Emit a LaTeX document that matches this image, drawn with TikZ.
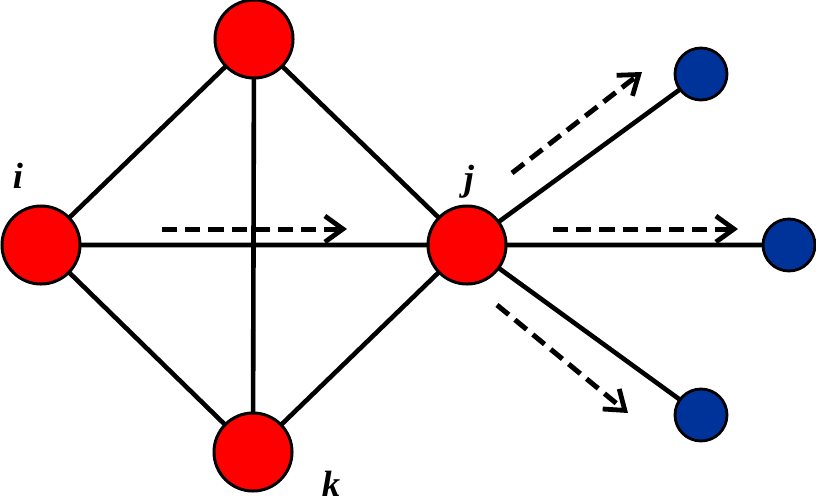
\documentclass[tikz,border=0pt]{standalone}
\usepackage{fontspec}
\setmainfont{Liberation Serif}
\usetikzlibrary{arrows.meta}

\begin{document}
\begin{tikzpicture}[x=0.025cm, y=-0.025cm, >={Straight Barb[length=4.5mm, width=6.5mm, line width=1.2mm]},
  big/.style={circle, draw, line width=0.075cm, fill=red, minimum size=1.95cm, inner sep=0pt},
  small/.style={circle, draw, line width=0.07cm, fill={rgb,255:red,0;green,51;blue,153}, minimum size=1.3cm, inner sep=0pt},
  edge/.style={line width=0.115cm},
  flow/.style={->, line width=0.125cm, dash pattern=on 0.38cm off 0.2cm},
  lbl/.style={font=\fontsize{26}{30}\selectfont\bfseries\itshape, inner sep=0pt, anchor=base}]
  \useasboundingbox (0,0) rectangle (816,502);
  % edges first, circles drawn over them
  \coordinate (ic) at (41,245);
  \coordinate (tc) at (254,39);
  \coordinate (kc) at (253,452);
  \coordinate (jc) at (467,245);
  \draw[edge] (ic) -- (tc) (ic) -- (kc) (ic) -- (jc)
    (tc) -- (kc) (tc) -- (jc) (kc) -- (jc);
  \draw[edge] (jc) -- (701,74) (jc) -- (789,245) (jc) -- (701,415);
  \node[big] (i) at (ic) {};
  \node[big] (t) at (tc) {};
  \node[big] (k) at (kc) {};
  \node[big] (j) at (jc) {};
  \node[small] (b1) at (701,74) {};
  \node[small] (b2) at (789,245) {};
  \node[small] (b3) at (701,415) {};
  \node[lbl] (li) at (18,188) {i};
  \node[lbl] (lj) at (469,190) {j};
  \node[lbl] (lk) at (331,496) {k};
  % flow arrows
  \coordinate (f1a) at (162,229);
  \coordinate (f1b) at (347,229);
  \coordinate (f2a) at (512,173);
  \coordinate (f2b) at (642,72);
  \coordinate (f3a) at (553,229);
  \coordinate (f3b) at (738,229);
  \coordinate (f4a) at (497,305);
  \coordinate (f4b) at (628,413);
  \draw[flow] (f1a) -- (f1b);
  \draw[flow] (f2a) -- (f2b);
  \draw[flow] (f3a) -- (f3b);
  \draw[flow] (f4a) -- (f4b);
\end{tikzpicture}
\end{document}
